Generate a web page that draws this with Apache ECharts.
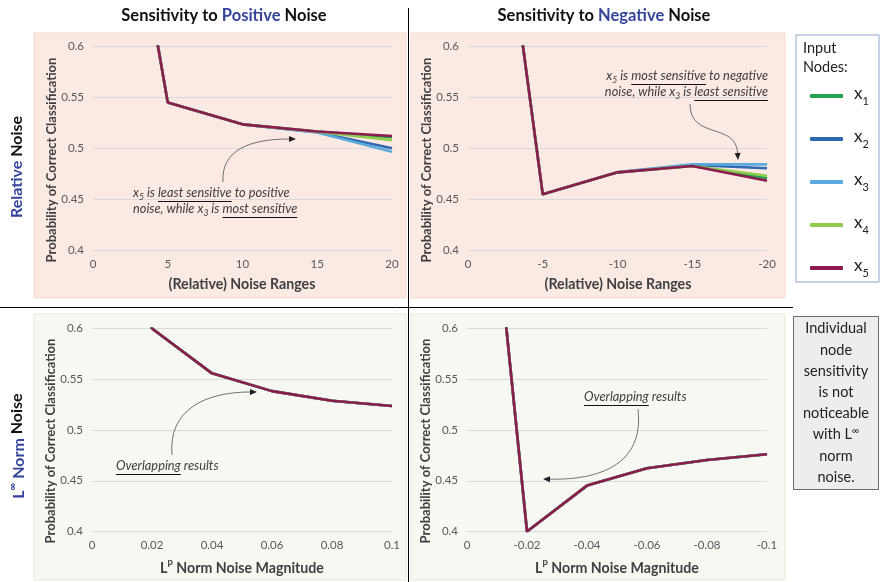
<!DOCTYPE html>
<html>
<head>
<meta charset="utf-8">
<script src="https://cdn.jsdelivr.net/npm/echarts@6/dist/echarts.min.js"></script>
<style>html,body{margin:0;padding:0;background:#fff}#c{width:880px;height:582px}</style>
</head>
<body>
<div id="c"></div>
<script>
// ---------- DATA ----------
const nodeNames = ['x1', 'x2', 'x3', 'x4', 'x5'];
const nodeColors = ['#22A24C', '#2E68B0', '#5AAADD', '#8FCC4E', '#8C1B4F'];

const relPosX = [0, 5, 10, 15, 20];
const relPosY = {
  x1: [0.968, 0.545, 0.5235, 0.5163, 0.5108],
  x2: [0.968, 0.545, 0.5235, 0.5158, 0.4999],
  x3: [0.968, 0.545, 0.5235, 0.5155, 0.4966],
  x4: [0.968, 0.545, 0.5235, 0.5162, 0.5080],
  x5: [0.968, 0.545, 0.5235, 0.5165, 0.5120]
};

const relNegX = [0, -5, -10, -15, -20];
const relNegY = {
  x1: [1.005, 0.4547, 0.4763, 0.4826, 0.4705],
  x2: [1.005, 0.4547, 0.4763, 0.4835, 0.4803],
  x3: [1.005, 0.4547, 0.4765, 0.4842, 0.4842],
  x4: [1.005, 0.4547, 0.4763, 0.4826, 0.4730],
  x5: [1.005, 0.4547, 0.4763, 0.4826, 0.4680]
};

const normPosX = [0, 0.02, 0.04, 0.06, 0.08, 0.1];
const normPosY = [0.98, 0.6, 0.5558, 0.5383, 0.5288, 0.5236];   // identical for all nodes

const normNegX = [0, -0.02, -0.04, -0.06, -0.08, -0.1];
const normNegY = [0.982, 0.4, 0.4452, 0.4623, 0.4705, 0.4761];   // identical for all nodes

const yTicks = { min: 0.4, max: 0.6, step: 0.05 };
const relTicks = { min: -20, max: 20, step: 5 };
const normTicks = { step: 0.02 };

// ---------- LAYOUT HELPERS ----------
const FONT = 'Lato';
const BLUE = '#34449C';
const TXT = '#404040';
const ctx = document.createElement('canvas').getContext('2d');
function tw(text, size, style, weight) {
  ctx.font = (style || 'normal') + ' ' + (weight || 'normal') + ' ' + size + 'px ' + FONT;
  return ctx.measureText(text).width;
}

function annot(lines, x, yTop, align, lineGap) {
  const F = 12.8, FS = 8.6;
  const out = [];
  lines.forEach((parts, li) => {
    const y = yTop + li * lineGap;
    const widths = parts.map(p => tw(p.t, p.sub ? FS : F, 'italic'));
    const total = widths.reduce((a, b) => a + b, 0);
    let cx = align === 'right' ? x - total : x;
    parts.forEach((p, i) => {
      out.push({
        type: 'text', x: cx, y: p.sub ? y + 4 : y, z: 20,
        style: { text: p.t, fontFamily: FONT, fontStyle: 'italic', fontSize: p.sub ? FS : F,
                 fill: TXT, align: 'left', verticalAlign: 'middle' }
      });
      if (p.u) {
        const uy = Math.round(y + 8) + 0.5;
        out.push({ type: 'line', z: 20,
          shape: { x1: cx, y1: uy, x2: cx + widths[i], y2: uy },
          style: { stroke: '#111', lineWidth: 1 } });
      }
      cx += widths[i];
    });
  });
  return out;
}

function arrow(p0, c1, c2, p1) {
  const dx = p1[0] - c2[0], dy = p1[1] - c2[1];
  const L = Math.sqrt(dx * dx + dy * dy) || 1;
  const ux = dx / L, uy = dy / L, nx = -uy, ny = ux;
  const hl = 7, hw = 3;
  const bx = p1[0] - ux * hl, by = p1[1] - uy * hl;
  return [
    { type: 'bezierCurve', z: 20,
      shape: { x1: p0[0], y1: p0[1], cpx1: c1[0], cpy1: c1[1], cpx2: c2[0], cpy2: c2[1], x2: bx, y2: by },
      style: { stroke: '#505050', lineWidth: 0.8, fill: null } },
    { type: 'polygon', z: 20,
      shape: { points: [p1, [bx + nx * hw, by + ny * hw], [bx - nx * hw, by - ny * hw]] },
      style: { fill: '#202020' } }
  ];
}

function rect(x, y, w, h, fill, stroke, z) {
  return { type: 'rect', z: z, shape: { x: x, y: y, width: w, height: h },
           style: { fill: fill, stroke: stroke, lineWidth: 1 } };
}

// ---------- AXES ----------
const grids = [
  { left: 93, top: 46.5, width: 299, height: 203.5 },
  { left: 468, top: 46.5, width: 299, height: 203.5 },
  { left: 92, top: 328.5, width: 300, height: 203 },
  { left: 467, top: 328.5, width: 300, height: 203 }
];
const lbl = { color: '#595959', fontFamily: FONT, fontSize: 11.5 };
const fmt = v => String(+(+v).toFixed(2));

const xAxes = [
  { gridIndex: 0, type: 'value', min: 0, max: relTicks.max, interval: relTicks.step },
  { gridIndex: 1, type: 'value', min: relTicks.min, max: 0, interval: relTicks.step, inverse: true },
  { gridIndex: 2, type: 'value', min: 0, max: 0.1, interval: normTicks.step },
  { gridIndex: 3, type: 'value', min: -0.1, max: 0, interval: normTicks.step, inverse: true }
].map(a => Object.assign(a, {
  axisLine: { show: false }, axisTick: { show: false }, splitLine: { show: false },
  axisLabel: Object.assign({ margin: 8, formatter: fmt }, lbl)
}));

const yAxes = [0, 1, 2, 3].map(i => ({
  gridIndex: i, type: 'value', min: yTicks.min, max: yTicks.max, interval: yTicks.step,
  axisLine: { show: false }, axisTick: { show: false },
  splitLine: { show: true, lineStyle: { color: '#D9D9D9', width: 1 } },
  axisLabel: Object.assign({ margin: 9, formatter: fmt }, lbl)
}));

// ---------- SERIES ----------
const series = [];
function addPanel(idx, xs, ysFor) {
  nodeNames.forEach((n, k) => {
    const ys = ysFor(n);
    series.push({
      type: 'line', name: n, xAxisIndex: idx, yAxisIndex: idx,
      data: xs.map((x, j) => [x, ys[j]]),
      showSymbol: false, symbol: 'none', clip: true, silent: true,
      lineStyle: { color: nodeColors[k], width: 2.6 },
      itemStyle: { color: nodeColors[k] },
      z: 2 + k
    });
  });
}
addPanel(0, relPosX, n => relPosY[n]);
addPanel(1, relNegX, n => relNegY[n]);
addPanel(2, normPosX, n => normPosY);
addPanel(3, normNegX, n => normNegY);

// ---------- GRAPHIC ----------
const g = [];
// panel backgrounds
g.push(rect(34, 33, 372, 265, '#FBE9E3', '#F7D8CC', -10));
g.push(rect(411, 33, 374, 265, '#FBE9E3', '#F7D8CC', -10));
g.push(rect(34, 314, 372, 266, '#F6F8F1', '#E2EAD7', -10));
g.push(rect(411, 314, 374, 266, '#F6F8F1', '#E2EAD7', -10));
// separators
g.push({ type: 'line', z: 5, shape: { x1: 408.5, y1: 8, x2: 408.5, y2: 582 }, style: { stroke: '#000', lineWidth: 1 } });
g.push({ type: 'line', z: 5, shape: { x1: 0, y1: 307.5, x2: 793, y2: 307.5 }, style: { stroke: '#000', lineWidth: 1 } });
// column titles
[['Positive', 224], ['Negative', 604]].forEach(([w, x]) => {
  g.push({ type: 'text', x: x, y: 16, z: 10,
    style: { text: 'Sensitivity to {b|' + w + '} Noise', fontFamily: FONT, fontWeight: 'bold', fontSize: 16.5,
             fill: '#111', align: 'center', verticalAlign: 'middle',
             rich: { b: { fontFamily: FONT, fontWeight: 'bold', fontSize: 16.5, fill: BLUE } } } });
});
// row titles
g.push({ type: 'text', x: 17, y: 167, rotation: Math.PI / 2, z: 10,
  style: { text: '{b|Relative} Noise', fontFamily: FONT, fontWeight: 'bold', fontSize: 16, fill: '#111',
           align: 'center', verticalAlign: 'middle',
           rich: { b: { fontFamily: FONT, fontWeight: 'bold', fontSize: 16, fill: BLUE } } } });
g.push({ type: 'text', x: 17, y: 446, rotation: Math.PI / 2, z: 10,
  style: { text: '{b|L}{s|∞}{b| Norm} Noise', fontFamily: FONT, fontWeight: 'bold', fontSize: 16, fill: '#111',
           align: 'center', verticalAlign: 'middle',
           rich: { b: { fontFamily: FONT, fontWeight: 'bold', fontSize: 16, fill: BLUE, lineHeight: 20, verticalAlign: 'bottom' },
                   s: { fontFamily: FONT, fontWeight: 'bold', fontSize: 10.5, fill: BLUE, lineHeight: 20, verticalAlign: 'top' } } } });
// axis names
[[51.5, 160], [427, 160], [51, 441], [426, 441]].forEach(([x, y]) => {
  g.push({ type: 'text', x: x, y: y, rotation: Math.PI / 2, z: 10,
    style: { text: 'Probability of Correct Classification', fontFamily: FONT, fontWeight: 'bold', fontSize: 13,
             fill: TXT, align: 'center', verticalAlign: 'middle' } });
});
[[242, 284], [618, 284]].forEach(([x, y]) => {
  g.push({ type: 'text', x: x, y: y, z: 10,
    style: { text: '(Relative) Noise Ranges', fontFamily: FONT, fontWeight: 'bold', fontSize: 14.2,
             fill: TXT, align: 'center', verticalAlign: 'middle' } });
});
[[242, 566], [617, 566]].forEach(([x, y]) => {
  g.push({ type: 'text', x: x, y: y, z: 10,
    style: { text: '{b|L}{s|p}{b| Norm Noise Magnitude}', fontFamily: FONT, fontWeight: 'bold', fontSize: 14.2,
             fill: TXT, align: 'center', verticalAlign: 'middle',
             rich: { b: { fontFamily: FONT, fontWeight: 'bold', fontSize: 14.2, fill: TXT, lineHeight: 18, verticalAlign: 'bottom' },
                     s: { fontFamily: FONT, fontWeight: 'bold', fontSize: 9.5, fill: TXT, lineHeight: 18, verticalAlign: 'top' } } } });
});
// legend box
g.push(rect(796, 35, 83, 247, '#FFFFFF', '#8FA6C9', 1));
g.push({ type: 'text', x: 803, y: 39, z: 10,
  style: { text: 'Input\nNodes:', fontFamily: FONT, fontSize: 14.5, lineHeight: 19, fill: '#222', align: 'left', verticalAlign: 'top' } });
// note box
g.push(rect(793.5, 316.5, 85, 173, '#EDEDED', '#6B6B6B', 1));
g.push({ type: 'text', x: 836, y: 403, z: 10,
  style: { text: 'Individual\nnode\nsensitivity\nis not\nnoticeable\n{m|with L}{s|∞}\nnorm\nnoise.',
           fontFamily: FONT, fontSize: 14.5, lineHeight: 21.2, fill: '#222', align: 'center', verticalAlign: 'middle',
           rich: { m: { fontFamily: FONT, fontSize: 14.5, fill: '#222', lineHeight: 21.2 },
                   s: { fontFamily: FONT, fontSize: 10, fill: '#222', lineHeight: 21.2, padding: [0, 0, 8, 0] } } } });
// annotations
g.push(...annot([
  [{ t: 'x' }, { t: '5', sub: true }, { t: ' is ' }, { t: 'least sensitive', u: true }, { t: ' to positive' }],
  [{ t: 'noise, while x' }, { t: '3', sub: true }, { t: ' is ' }, { t: 'most sensitive', u: true }]
], 133, 193, 'left', 16));
g.push(...arrow([223, 182], [221, 150], [250, 139], [296, 139]));

g.push(...annot([
  [{ t: 'x' }, { t: '5', sub: true }, { t: ' is ' }, { t: 'most sensitive', u: true }, { t: ' to negative' }],
  [{ t: 'noise, while x' }, { t: '3', sub: true }, { t: ' is ' }, { t: 'least sensitive', u: true }]
], 768, 76, 'right', 16));
g.push(...arrow([690, 104], [690, 140], [736, 122], [738, 160]));

g.push(...annot([[{ t: 'Overlapping', u: true }, { t: ' results' }]], 116, 466, 'left', 16));
g.push(...arrow([172, 455], [168, 410], [205, 392], [257, 392]));

g.push(...annot([[{ t: 'Overlapping', u: true }, { t: ' results' }]], 584, 397, 'left', 16));
g.push(...arrow([638, 409], [645, 470], [590, 480], [543, 479]));

// ---------- OPTION ----------
const option = {
  animation: false,
  backgroundColor: '#ffffff',
  grid: grids,
  xAxis: xAxes,
  yAxis: yAxes,
  legend: {
    data: nodeNames, orient: 'vertical', left: 805, top: 80,
    icon: 'roundRect', itemWidth: 33, itemHeight: 4, itemGap: 21,
    selectedMode: false, z: 10,
    formatter: n => '{x|x}{s|' + n.slice(1) + '}',
    textStyle: {
      color: '#222', padding: [0, 0, 0, 6],
      rich: {
        x: { fontFamily: FONT, fontSize: 17, lineHeight: 22, verticalAlign: 'top', color: '#222' },
        s: { fontFamily: FONT, fontSize: 11, lineHeight: 12, verticalAlign: 'bottom', color: '#222' }
      }
    }
  },
  series: series,
  graphic: { elements: g }
};

const chart = echarts.init(document.getElementById('c'), null, { renderer: 'canvas' });
chart.setOption(option);
</script>
</body>
</html>
